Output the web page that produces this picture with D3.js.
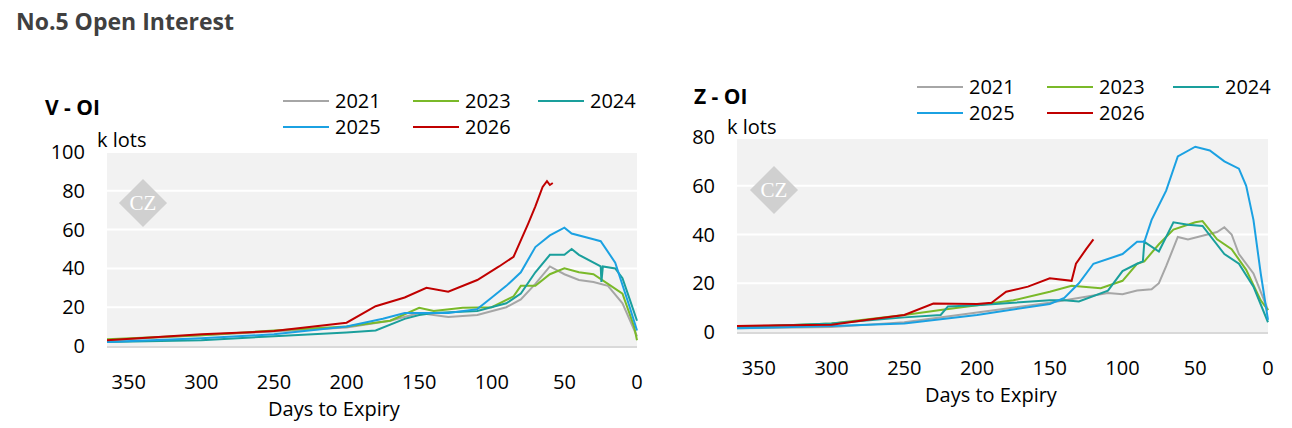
<!DOCTYPE html>
<html>
<head>
<meta charset="utf-8">
<script src="https://cdnjs.cloudflare.com/ajax/libs/d3/7.8.5/d3.min.js"></script>
<style>
body{margin:0;background:#fff;font-family:"Open Sans",sans-serif;}
</style>
</head>
<body>
<div id="chart"></div>
<script>
var years = ['2021','2023','2024','2025','2026'];
var colors = ['#a6a6a6','#7ab929','#1a9f9c','#1ba1e2','#c00000'];
var xTicks = [350,300,250,200,150,100,50,0];

// [days to expiry, k lots]
var v2021 = [[365,3],[300,5.5],[250,7.5],[200,9.5],[170,13],[150,17],[130,15],[110,16],[90,20],[80,24],[70,32],[60,41],[50,37],[40,34],[30,33],[20,31],[10,22],[0,5]];
var v2023 = [[365,3.5],[300,5.5],[250,8],[200,10],[170,13],[150,19.7],[140,18],[120,19.7],[100,20],[85,25.6],[80,31],[70,31],[60,37],[50,40],[40,38],[30,37],[20,32],[10,27],[2,10],[0,3]];
var v2024 = [[365,2],[300,3],[250,5],[200,7],[180,8],[160,14],[150,16],[140,17],[110,18],[90,22],[80,27],[70,38],[60,47],[50,47],[45,50],[40,47],[25,41],[24.5,33],[23.5,41],[15,40],[10,35],[5,24],[0,13]];
var v2025 = [[365,2],[300,4],[250,6],[200,10],[175,14],[160,17],[130,17],[110,19],[100,25],[90,31],[80,38],[70,51],[60,57],[50,61],[45,58],[30,55],[25,54],[15,43],[5,20],[0,8]];
var v2026 = [[365,3],[300,6],[250,7.7],[200,12],[180,20.5],[160,25],[145,30],[130,28],[110,34],[95,41],[85,46],[75,63],[70,72],[65,82],[62,85],[60,83],[58,84]];

var z2021 = [[365,1.5],[300,2],[250,4],[200,8],[150,12],[120,15],[110,16],[100,15.5],[90,17],[80,17.5],[75,20],[70,27],[62,39],[55,38],[45,39.5],[35,41],[30,43],[25,40],[20,32],[10,24],[0,9]];
var z2023 = [[365,2],[300,3.5],[250,7],[225,9],[200,11],[175,13],[150,16.5],[135,19],[115,18],[100,21],[90,28],[85,29],[75,36],[65,42],[50,45],[45,45.5],[35,38],[25,34],[15,25.5],[5,13],[0,9]];
var z2024 = [[365,2],[300,3.5],[250,6],[225,7],[220,10.5],[200,11],[175,12],[150,13],[140,13],[130,12.5],[110,17],[100,25],[90,28],[86,29],[85,37],[75,33],[65,45],[55,44],[45,43.5],[30,32],[20,28],[10,18.6],[0,4]];
var z2025 = [[365,1.5],[300,2.5],[250,3.5],[200,7],[150,11.5],[140,14],[130,20],[120,28],[100,32],[90,37],[85,37],[80,46],[70,58],[62,72],[50,76],[40,74.5],[30,70],[20,67],[15,60],[10,46],[5,24],[0,5]];
var z2026 = [[365,2.5],[300,3],[275,5],[250,7],[230,11.7],[200,11.5],[190,12],[180,16.5],[165,18.6],[150,22],[135,21],[132,28],[125,34],[120,38]];

var vTicks = [0,20,40,60,80,100];
var zTicks = [0,20,40,60,80];

var svg = d3.select('#chart').append('svg').attr('width',1292).attr('height',428);

svg.append('text').attr('x',16).attr('y',30).attr('font-size',23).attr('font-weight','bold')
  .attr('fill','#404040').text('No.5 Open Interest');

function drawChart(o){
  var x = d3.scaleLinear().domain([365,0]).range([o.left,o.right]);
  var y = d3.scaleLinear().domain([0,o.max]).range([o.bottom,o.top]);
  var g = svg.append('g');

  g.append('rect').attr('x',o.left).attr('y',o.bgTop).attr('width',o.right-o.left)
    .attr('height',o.bottom-o.bgTop).attr('fill','#f2f2f2');
  g.selectAll('.grid').data(o.ticks.slice(1)).enter().append('line')
    .attr('x1',o.left).attr('x2',o.right).attr('y1',y).attr('y2',y)
    .attr('stroke','#fff').attr('stroke-width',2);
  g.append('line').attr('x1',o.left).attr('x2',o.right).attr('y1',o.bottom+1).attr('y2',o.bottom+1)
    .attr('stroke','#d9d9d9').attr('stroke-width',2);

  // watermark
  var wm = g.append('g').attr('transform','translate('+o.wm[0]+','+o.wm[1]+')');
  wm.append('rect').attr('x',-17).attr('y',-17).attr('width',34).attr('height',34)
    .attr('transform','rotate(45)').attr('fill','#d0d0d0');
  wm.append('text').attr('x',0).attr('y',7).attr('text-anchor','middle').attr('font-family','Liberation Serif')
    .attr('font-size',21).attr('fill','#fff').text('CZ');

  g.selectAll('.yt').data(o.ticks).enter().append('text')
    .attr('x',o.left-22).attr('y',function(d){return y(d)+7;}).attr('text-anchor','end')
    .attr('font-size',20).attr('fill','#000').text(function(d){return d;});
  g.selectAll('.xt').data(xTicks).enter().append('text')
    .attr('x',x).attr('y',o.bottom+43).attr('text-anchor','middle')
    .attr('font-size',20).attr('fill','#000').text(function(d){return d;});
  g.append('text').attr('x',o.xLabel).attr('y',o.bottom+70).attr('text-anchor','middle')
    .attr('font-size',20).attr('fill','#000').text('Days to Expiry');
  g.append('text').attr('x',o.left-10).attr('y',o.bgTop-5).attr('font-size',20).text('k lots');
  g.append('text').attr('x',o.titleX).attr('y',o.titleY).attr('font-size',21).attr('font-weight','bold').text(o.title);

  var line = d3.line().x(function(d){return x(d[0]);}).y(function(d){return y(d[1]);});
  o.series.forEach(function(s,i){
    g.append('path').attr('d',line(s)).attr('fill','none').attr('stroke',colors[i]).attr('stroke-width',2);
  });

  // legend
  years.forEach(function(yr,i){
    var lx = o.legX[i%3], ly = o.legY + Math.floor(i/3)*o.legDy;
    g.append('line').attr('x1',lx).attr('x2',lx+46).attr('y1',ly).attr('y2',ly)
      .attr('stroke',colors[i]).attr('stroke-width',2);
    g.append('text').attr('x',lx+52).attr('y',ly+7).attr('font-size',20).text(yr);
  });
}

drawChart({left:107,right:637,top:152,bottom:346,bgTop:152,max:100,ticks:vTicks,
  series:[v2021,v2023,v2024,v2025,v2026],wm:[143,203],title:'V - OI',titleX:45,titleY:115,
  legX:[283,413,538],legY:101,legDy:26,xLabel:334});
drawChart({left:737,right:1268,top:137,bottom:332,bgTop:139,max:80,ticks:zTicks,
  series:[z2021,z2023,z2024,z2025,z2026],wm:[774,190],title:'Z - OI',titleX:694,titleY:104,
  legX:[917,1047,1173],legY:87,legDy:26,xLabel:991});
</script>
</body>
</html>
